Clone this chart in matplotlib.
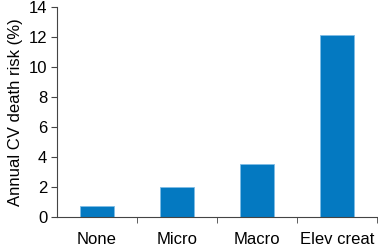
import matplotlib
matplotlib.use("Agg")
import matplotlib.pyplot as plt

categories = ["None", "Micro", "Macro", "Elev creat"]
values = [0.75, 2.0, 3.55, 12.1]
yticks = [0, 2, 4, 6, 8, 10, 12, 14]

plt.rcParams['font.family'] = ['Liberation Sans', 'DejaVu Sans']
fig = plt.figure(figsize=(3.78, 2.47), dpi=100)
ax = fig.add_axes([57/378, 30/247, 320/378, 210/247])
x = list(range(len(categories)))
ax.bar(x, values, width=0.42, color="#0479C1", edgecolor="#7fbde6", linewidth=0.6)
ax.set_xlim(-0.5, 3.5)
ax.set_ylim(0, 14)
ax.set_yticks(yticks)
ax.set_xticks(x)
ax.set_xticklabels(categories, fontsize=12)
ax.set_xticks([0.5, 1.5, 2.5, 3.5], minor=True)
ax.tick_params(axis='x', which='major', length=0, pad=11)
ax.tick_params(axis='x', which='minor', length=4, direction='out', color='#444444')
ax.tick_params(axis='y', length=4, direction='out', labelsize=12, color='#444444', pad=3)
ax.set_ylabel("Annual CV death risk (%)", fontsize=12, labelpad=4)
for s in ['top', 'right']:
    ax.spines[s].set_visible(False)
for s in ['left', 'bottom']:
    ax.spines[s].set_color('#444444')
    ax.spines[s].set_linewidth(0.8)
fig.savefig("out.png", dpi=100)
